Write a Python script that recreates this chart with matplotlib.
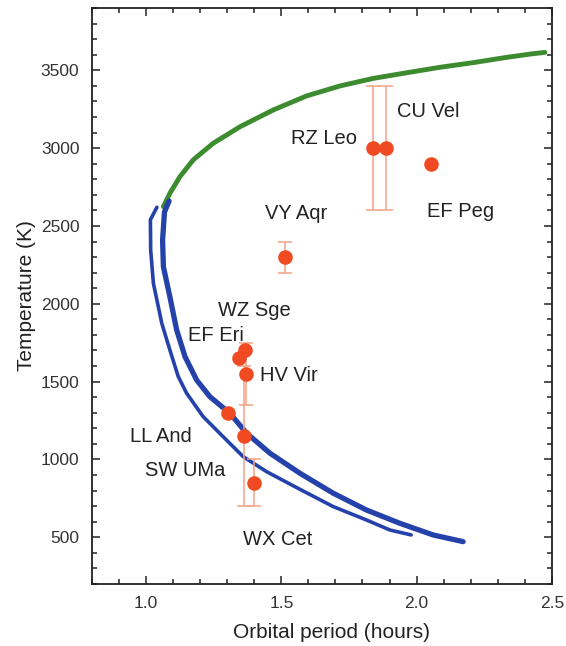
import matplotlib
matplotlib.use("Agg")
import matplotlib.pyplot as plt
from matplotlib.ticker import MultipleLocator

plt.rcParams['font.family'] = ['Liberation Sans', 'DejaVu Sans']

# Green track
green_x = [2.474, 2.419, 2.333, 2.209, 2.086, 1.963, 1.840, 1.716, 1.593, 1.470,
           1.347, 1.248, 1.174, 1.125, 1.088, 1.064]
green_y = [3615, 3604, 3583, 3549, 3519, 3484, 3448, 3399, 3335, 3245,
           3137, 3031, 2924, 2816, 2710, 2624]

# Blue outer track
blue_out_x = [1.085, 1.068, 1.061, 1.064, 1.088, 1.113, 1.144, 1.187, 1.236, 1.310,
              1.372, 1.458, 1.569, 1.692, 1.815, 1.938, 2.061, 2.172]
blue_out_y = [2660, 2590, 2410, 2238, 2045, 1832, 1660, 1510, 1403, 1296,
              1168, 1040, 911, 783, 675, 590, 515, 472]

# Blue inner track
blue_in_x = [1.040, 1.016, 1.017, 1.027, 1.058, 1.088, 1.119, 1.150, 1.211, 1.285,
             1.359, 1.446, 1.569, 1.692, 1.815, 1.901, 1.980]
blue_in_y = [2620, 2540, 2345, 2132, 1875, 1703, 1532, 1425, 1275, 1146,
             1018, 921, 808, 697, 611, 547, 515]

# Observed systems
names = ["CU Vel", "RZ Leo", "EF Peg", "VY Aqr", "WZ Sge", "EF Eri", "HV Vir",
         "LL And", "SW UMa", "WX Cet"]
obs_x = [1.886, 1.840, 2.052, 1.513, 1.365, 1.345, 1.369, 1.304, 1.362, 1.399]
obs_y = [3000, 3000, 2900, 2300, 1700, 1650, 1550, 1300, 1150, 850]
obs_err = [400, 400, 0, 100, 0, 0, 200, 0, 450, 150]

# Label anchor positions (data coordinates)
label_x = [1.926, 1.778, 2.164, 1.556, 1.399, 1.257, 1.421, 1.056, 1.144, 1.486]
label_y = [3234, 3063, 2592, 2581, 1960, 1799, 1542, 1146, 932, 483]
label_ha = ["left", "right", "center", "center", "center", "center", "left",
            "center", "center", "center"]

fig = plt.figure(figsize=(5.66, 6.46), dpi=100)
ax = fig.add_axes([0.1625, 0.096, 0.8125, 0.8916])

green = '#3d8b2f'
blue = '#2442aa'
ax.plot(green_x, green_y, color=green, lw=3.5, solid_capstyle='round',
        solid_joinstyle='round', zorder=2)
ax.plot(blue_out_x, blue_out_y, color=blue, lw=3.8, solid_capstyle='round',
        solid_joinstyle='round', zorder=2)
ax.plot(blue_in_x, blue_in_y, color=blue, lw=2.6, solid_capstyle='round',
        solid_joinstyle='round', zorder=2)

for x, y, e in zip(obs_x, obs_y, obs_err):
    if e > 0:
        ax.errorbar([x], [y], yerr=[e], fmt='none', ecolor='#f5a184', elinewidth=1.1,
                    capsize=4.8, capthick=1.1, zorder=3)
ax.plot(obs_x, obs_y, 'o', color='#f04a22', ms=10.5, mec='none', zorder=4)

for n, x, y, ha in zip(names, label_x, label_y, label_ha):
    ax.text(x, y, n, ha=ha, va='center', fontsize=14.5, color='#222222', zorder=5)

ax.set_xlim(0.8, 2.5)
ax.set_ylim(200, 3900)
ax.xaxis.set_minor_locator(MultipleLocator(0.1))
ax.yaxis.set_minor_locator(MultipleLocator(100))
ax.set_yticks([500, 1000, 1500, 2000, 2500, 3000, 3500])
ax.set_xticks([1.0, 1.5, 2.0, 2.5])
ax.set_xticklabels(["1.0", "1.5", "2.0", "2.5"])
ax.tick_params(which='both', direction='in', top=True, right=True,
               labelsize=12.5, labelcolor='#333333', width=1.1, color='#222222')
ax.tick_params(which='major', length=6, pad=9)
ax.tick_params(which='minor', length=3.5)
for s in ax.spines.values():
    s.set_linewidth(1.3)
    s.set_color('#222222')

ax.set_xlabel("Orbital period (hours)", fontsize=15, color='#222222')
ax.set_ylabel("Temperature (K)", fontsize=15, color='#222222')
ax.xaxis.set_label_coords(0.52, -0.068)
ax.yaxis.set_label_coords(-0.122, 0.5)

fig.savefig("out.png", dpi=100)
